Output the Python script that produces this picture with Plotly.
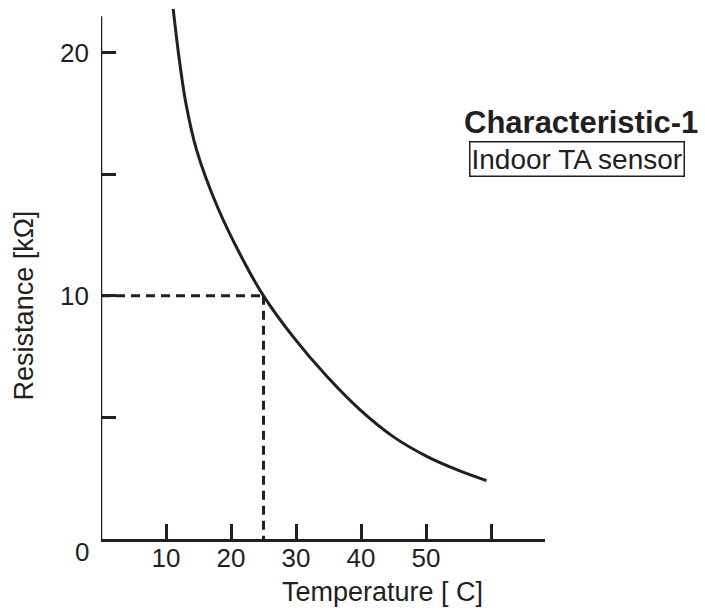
import plotly.graph_objects as go

# ── Data ──────────────────────────────────────────────────────────────────────
TEMPS_C = [11.1, 12.0, 13.0, 14.7, 18.0, 22.2, 25.0, 29.6, 34.7, 39.9, 45.0, 50.1, 55.2, 59.3]
RESISTANCE_KOHM = [21.8, 19.8, 18.0, 16.0, 13.6, 11.3, 10.0, 8.3, 6.7, 5.3, 4.2, 3.4, 2.8, 2.4]

REF_TEMP = 25      # reference point marked by the dashed lines
REF_RES = 10

X_TICKS = [10, 20, 30, 40, 50, 60]
X_TICK_TEXT = ["10", "20", "30", "40", "50", ""]
Y_TICKS = [5, 10, 15, 20]
Y_TICK_TEXT = ["", "10", "", "20"]

X_MAX = 68.3
Y_AXIS_TOP = 21.5
Y_MAX = 22

INK = "#231f20"
FONT = "Liberation Sans, Arial, sans-serif"

fig = go.Figure()

# dashed guides to the 25 C / 10 kΩ point
fig.add_trace(go.Scatter(
    x=[0, REF_TEMP], y=[REF_RES, REF_RES],
    mode="lines", line=dict(color=INK, width=3, dash="9px,6px"),
    hoverinfo="skip",
))
fig.add_trace(go.Scatter(
    x=[REF_TEMP, REF_TEMP], y=[REF_RES, 0],
    mode="lines", line=dict(color=INK, width=3, dash="9px,6px"),
    hoverinfo="skip",
))

fig.add_trace(go.Scatter(
    x=TEMPS_C, y=RESISTANCE_KOHM,
    mode="lines", line=dict(color=INK, width=3, shape="spline", smoothing=0.8),
))

# y axis line stops short of the top of the plot area
fig.add_shape(type="line", xref="x", yref="y", x0=0, x1=0, y0=0, y1=Y_AXIS_TOP,
              line=dict(color=INK, width=2.5))

fig.update_xaxes(
    range=[0, X_MAX],
    showline=True, linecolor=INK, linewidth=2.5,
    showgrid=False, zeroline=False,
    tickvals=X_TICKS, ticktext=X_TICK_TEXT,
    ticks="inside", ticklen=15, tickwidth=2.5, tickcolor=INK,
    tickfont=dict(family=FONT, size=26, color=INK),
    ticklabelstandoff=-6,
)
fig.update_yaxes(
    range=[0, Y_MAX],
    showline=False, showgrid=False, zeroline=False,
    tickvals=Y_TICKS, ticktext=Y_TICK_TEXT,
    ticks="inside", ticklen=15, tickwidth=2.5, tickcolor=INK,
    tickfont=dict(family=FONT, size=26, color=INK),
    ticklabelstandoff=11,
)

# origin label, axis titles and the caption box
label = dict(xref="paper", yref="paper", xanchor="center", yanchor="middle", showarrow=False)
fig.add_annotation(text="0", x=-0.043, y=-0.024,
                   font=dict(family=FONT, size=26, color=INK), **label)
fig.add_annotation(text="Resistance [kΩ]", x=-0.173, y=0.437, textangle=-90,
                   font=dict(family=FONT, size=27, color=INK), **label)
fig.add_annotation(text="Temperature [ C]", x=0.635, y=-0.099,
                   font=dict(family=FONT, size=27, color=INK), **label)
fig.add_annotation(text="<b>Characteristic-1</b>", x=1.081, y=0.779,
                   font=dict(family=FONT, size=31, color=INK), **label)
fig.add_annotation(text="Indoor TA sensor", x=1.071, y=0.710,
                   bordercolor=INK, borderwidth=1.5, borderpad=1,
                   font=dict(family=FONT, size=28, color=INK), **label)

fig.update_layout(
    width=705, height=615,
    margin=dict(l=101, r=160, t=4, b=76),
    plot_bgcolor="white", paper_bgcolor="white",
    showlegend=False,
)

# drop the page's default body margin so the figure sits at the window corner
fig.write_html("out.html", config={"displayModeBar": False},
               post_script="document.body.style.margin='0';")
